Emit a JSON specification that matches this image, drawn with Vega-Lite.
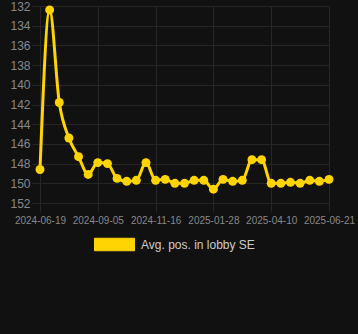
{
  "$schema": "https://vega.github.io/schema/vega-lite/v6.json",
  "autosize": {"type": "none"},
  "width": 289,
  "height": 197,
  "padding": {"left": 40, "top": 6, "right": 29, "bottom": 131},
  "background": "#111111",
  "config": {
    "font": "Liberation Sans",
    "view": {"stroke": null},
    "axis": {
      "gridColor": "#262626",
      "gridWidth": 1,
      "tickColor": "#262626",
      "domain": false,
      "labelColor": "#888888",
      "labelFont": "Liberation Sans",
      "title": null
    }
  },
  "data": {
    "values": [
      {"date": "2024-06-19", "pos": 148.6, "series": "Avg. pos. in lobby SE"},
      {"date": "2024-07-02", "pos": 132.4, "series": "Avg. pos. in lobby SE"},
      {"date": "2024-07-15", "pos": 141.8, "series": "Avg. pos. in lobby SE"},
      {"date": "2024-07-28", "pos": 145.4, "series": "Avg. pos. in lobby SE"},
      {"date": "2024-08-10", "pos": 147.3, "series": "Avg. pos. in lobby SE"},
      {"date": "2024-08-23", "pos": 149.1, "series": "Avg. pos. in lobby SE"},
      {"date": "2024-09-05", "pos": 147.9, "series": "Avg. pos. in lobby SE"},
      {"date": "2024-09-17", "pos": 148.0, "series": "Avg. pos. in lobby SE"},
      {"date": "2024-09-29", "pos": 149.5, "series": "Avg. pos. in lobby SE"},
      {"date": "2024-10-11", "pos": 149.8, "series": "Avg. pos. in lobby SE"},
      {"date": "2024-10-23", "pos": 149.7, "series": "Avg. pos. in lobby SE"},
      {"date": "2024-11-04", "pos": 147.9, "series": "Avg. pos. in lobby SE"},
      {"date": "2024-11-16", "pos": 149.7, "series": "Avg. pos. in lobby SE"},
      {"date": "2024-11-28", "pos": 149.6, "series": "Avg. pos. in lobby SE"},
      {"date": "2024-12-10", "pos": 150.0, "series": "Avg. pos. in lobby SE"},
      {"date": "2024-12-22", "pos": 150.0, "series": "Avg. pos. in lobby SE"},
      {"date": "2025-01-03", "pos": 149.7, "series": "Avg. pos. in lobby SE"},
      {"date": "2025-01-16", "pos": 149.7, "series": "Avg. pos. in lobby SE"},
      {"date": "2025-01-28", "pos": 150.6, "series": "Avg. pos. in lobby SE"},
      {"date": "2025-02-09", "pos": 149.6, "series": "Avg. pos. in lobby SE"},
      {"date": "2025-02-21", "pos": 149.8, "series": "Avg. pos. in lobby SE"},
      {"date": "2025-03-05", "pos": 149.7, "series": "Avg. pos. in lobby SE"},
      {"date": "2025-03-17", "pos": 147.6, "series": "Avg. pos. in lobby SE"},
      {"date": "2025-03-29", "pos": 147.6, "series": "Avg. pos. in lobby SE"},
      {"date": "2025-04-10", "pos": 150.0, "series": "Avg. pos. in lobby SE"},
      {"date": "2025-04-22", "pos": 150.0, "series": "Avg. pos. in lobby SE"},
      {"date": "2025-05-04", "pos": 149.9, "series": "Avg. pos. in lobby SE"},
      {"date": "2025-05-16", "pos": 150.0, "series": "Avg. pos. in lobby SE"},
      {"date": "2025-05-28", "pos": 149.7, "series": "Avg. pos. in lobby SE"},
      {"date": "2025-06-09", "pos": 149.8, "series": "Avg. pos. in lobby SE"},
      {"date": "2025-06-21", "pos": 149.6, "series": "Avg. pos. in lobby SE"}
    ]
  },
  "mark": {
    "type": "line",
    "interpolate": "monotone",
    "strokeWidth": 3,
    "point": {"filled": true, "size": 80, "opacity": 1}
  },
  "encoding": {
    "x": {
      "field": "date",
      "type": "ordinal",
      "sort": "ascending",
      "scale": {"type": "point", "padding": 0},
      "axis": {
        "values": ["2024-06-19", "2024-09-05", "2024-11-16", "2025-01-28", "2025-04-10", "2025-06-21"],
        "labelAngle": 0,
        "labelFontSize": 10,
        "tickSize": 9,
        "labelPadding": 3,
        "grid": true
      }
    },
    "y": {
      "field": "pos",
      "type": "quantitative",
      "scale": {"domain": [132, 152], "reverse": true, "zero": false, "nice": false},
      "axis": {
        "values": [132, 134, 136, 138, 140, 142, 144, 146, 148, 150, 152],
        "labelFontSize": 12,
        "tickSize": 8,
        "labelPadding": 2,
        "grid": true
      }
    },
    "color": {
      "field": "series",
      "type": "nominal",
      "scale": {"range": ["#FFD400"]},
      "legend": {
        "title": null,
        "orient": "none",
        "legendX": 54,
        "legendY": 218,
        "symbolType": "M-1,-0.3125H1V0.3125H-1Z",
        "symbolSize": 1600,
        "labelColor": "#cccccc",
        "labelFontSize": 12,
        "labelFont": "Liberation Sans",
        "labelOffset": 6,
        "encode": {
          "symbols": {"update": {"fill": {"value": "#FFD400"}, "stroke": {"value": "#FFD400"}, "strokeWidth": {"value": 1}, "opacity": {"value": 1}}}
        }
      }
    }
  }
}
